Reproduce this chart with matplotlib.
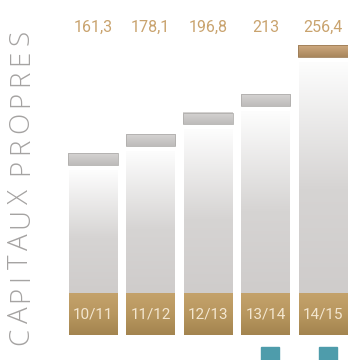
import numpy as np
import matplotlib.pyplot as plt
from matplotlib.colors import LinearSegmentedColormap
from matplotlib.patches import Rectangle

years = ["10/11", "11/12", "12/13", "13/14", "14/15"]
values = [161.3, 178.1, 196.8, 213, 256.4]
value_labels = ["161,3", "178,1", "196,8", "213", "256,4"]
marked = [3, 4]  # exercices with a small teal tab underneath
title = "CAPITAUX PROPRES"

BAR_W = 0.835
CAP_H = 10.5
GAP = 5
BASE_H = 37
NARROW = ["Liberation Sans Narrow", "Roboto", "DejaVu Sans"]

body_cmap = LinearSegmentedColormap.from_list(
    "body", [(0, "#cfcccb"), (0.45, "#d6d4d3"), (1, "#fdfdfd")])
base_cmap = LinearSegmentedColormap.from_list(
    "base", [(0, "#a3844f"), (0.5, "#b8975f"), (1, "#c4a26b")])
grey_cap = LinearSegmentedColormap.from_list("gcap", ["#bdbbba", "#d6d4d3"])
gold_cap = LinearSegmentedColormap.from_list("ocap", ["#a8865c", "#cfaa80"])

fig = plt.figure(figsize=(3.48, 3.6), dpi=100)
ax = fig.add_axes([64.25 / 348, 0, 287.5 / 348, 1])
ax.set_xlim(-0.5, 4.5)
ax.set_ylim(-25 / 1.13, 335 / 1.13)
ax.axis("off")

grad = np.linspace(0, 1, 256).reshape(-1, 1)

for i, (v, yr, lab) in enumerate(zip(values, years, value_labels)):
    x0, x1 = i - BAR_W / 2, i + BAR_W / 2
    # gradient body
    ax.imshow(grad, cmap=body_cmap, aspect="auto", origin="lower",
              extent=[x0, x1, BASE_H, v - CAP_H - GAP], zorder=1)
    # golden base with the year
    ax.imshow(grad, cmap=base_cmap, aspect="auto", origin="lower",
              extent=[x0, x1, 0, BASE_H], zorder=2)
    ax.text(i, BASE_H * 0.5, yr, ha="center", va="center", color="#f3e6cf",
            fontsize=11, family=NARROW, zorder=3)
    # cap on top of the bar
    cmap = gold_cap if i == len(values) - 1 else grey_cap
    ax.imshow(grad, cmap=cmap, aspect="auto", origin="lower",
              extent=[x0 - 0.01, x1 + 0.01, v - CAP_H, v], zorder=2)
    ax.add_patch(Rectangle((x0 - 0.01, v - CAP_H), BAR_W + 0.02, CAP_H,
                           fill=False, ec="#b0aeac" if i < 4 else "#9c7c56",
                           lw=0.6, zorder=3))
    # value above
    ax.text(i, 272.5, lab, ha="center", va="center", color="#c9a36e",
            fontsize=11.5, family=NARROW)

for i in marked:
    ax.add_patch(Rectangle((i + 0.08 - 0.155, -22.2), 0.31, 11.5,
                           color="#4e9cab", zorder=2))

# vertical title, letter-spaced: lay the glyphs out one by one
renderer = fig.canvas.get_renderer()
style = dict(color="#a5a3a2", fontsize=20, fontweight="light",
             family=["Open Sans", "DejaVu Sans"])
widths = []
for ch in title:
    t = fig.text(0, 0, ch if ch != " " else "I", **style)
    widths.append(t.get_window_extent(renderer).width)
    t.remove()
widths = [w * (0.6 if ch == " " else 1) for w, ch in zip(widths, title)]
y_lo, y_hi = 15, 330  # pixels from the bottom
track = (y_hi - y_lo - sum(widths)) / (len(title) - 1)
y = y_lo
for ch, w in zip(title, widths):
    if ch != " ":
        fig.text(21 / 348, (y + w / 2) / 360, ch, rotation=90, ha="center",
                 va="center", **style)
    y += w + track

fig.savefig("out.png", dpi=100)
